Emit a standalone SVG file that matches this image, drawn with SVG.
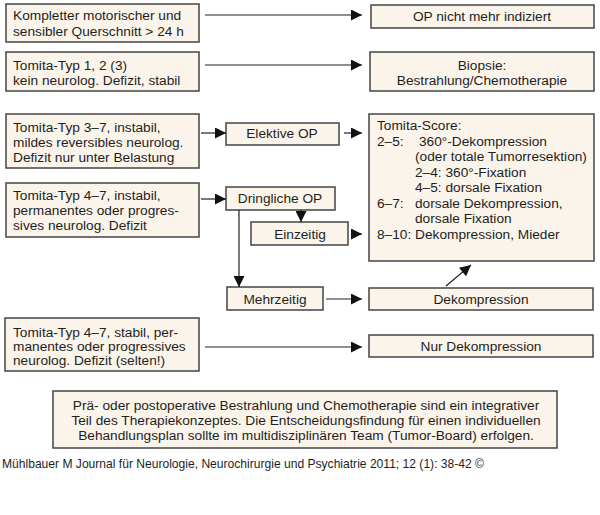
<svg xmlns="http://www.w3.org/2000/svg" width="600" height="515" viewBox="0 0 600 515">
<defs>
<style>
.b{fill:#fbf4ea;stroke:#444;stroke-width:1.5}
text{font-family:"Liberation Sans",Arial,sans-serif;font-size:13.7px;fill:#1e1e1e}
.c{text-anchor:middle}
.l{stroke:#222;stroke-width:1.2;fill:none}
</style>
<marker id="a" viewBox="0 0 10 10" refX="10" refY="5" markerWidth="12" markerHeight="11" markerUnits="userSpaceOnUse" orient="auto"><path d="M0,0L10,5L0,10z" fill="#111"/></marker>
</defs>
<rect width="600" height="515" fill="#fff"/>
<g id="n1"><rect class="b" x="6" y="4" width="193" height="38"/><text x="13" y="20">Kompletter motorischer und</text><text x="13" y="36">sensibler Querschnitt &gt; 24 h</text></g>
<g id="n2"><rect class="b" x="6" y="52" width="193" height="39"/><text x="13" y="70">Tomita-Typ 1, 2 (3)</text><text x="13" y="85">kein neurolog. Defizit, stabil</text></g>
<g id="n3"><rect class="b" x="6" y="114" width="193" height="54"/><text x="13" y="132">Tomita-Typ 3–7, instabil,</text><text x="13" y="147">mildes reversibles neurolog.</text><text x="13" y="162">Defizit nur unter Belastung</text></g>
<g id="n4"><rect class="b" x="6" y="183" width="193" height="54"/><text x="13" y="200">Tomita-Typ 4–7, instabil,</text><text x="13" y="215">permanentes oder progres-</text><text x="13" y="230">sives neurolog. Defizit</text></g>
<g id="n5"><rect class="b" x="5" y="318" width="194" height="53"/><text x="13" y="337">Tomita-Typ 4–7, stabil, per-</text><text x="13" y="351">manentes oder progressives</text><text x="13" y="365">neurolog. Defizit (selten!)</text></g>
<g id="r1"><rect class="b" x="371" y="5" width="223" height="23"/><text class="c" x="482" y="21">OP nicht mehr indiziert</text></g>
<g id="r2"><rect class="b" x="370" y="52" width="224" height="39"/><text class="c" x="482" y="70">Biopsie:</text><text class="c" x="482" y="85">Bestrahlung/Chemotherapie</text></g>
<g id="r3"><rect class="b" x="369" y="114" width="225" height="147"/>
<text x="377" y="130">Tomita-Score:</text>
<text x="377" y="146">2–5:</text><text x="419" y="146">360°-Dekompression</text>
<text x="415" y="161">(oder totale Tumorresektion)</text>
<text x="415" y="177">2–4: 360°-Fixation</text>
<text x="415" y="192">4–5: dorsale Fixation</text>
<text x="377" y="208">6–7:</text><text x="415" y="208">dorsale Dekompression,</text>
<text x="415" y="223">dorsale Fixation</text>
<text x="377" y="239">8–10: Dekompression, Mieder</text></g>
<g id="r4"><rect class="b" x="369" y="288" width="224" height="22"/><text class="c" x="481" y="304">Dekompression</text></g>
<g id="r5"><rect class="b" x="369" y="335" width="224" height="22"/><text class="c" x="481" y="351">Nur Dekompression</text></g>
<g id="m1"><rect class="b" x="226" y="123" width="113" height="22"/><text class="c" x="282" y="138">Elektive OP</text></g>
<g id="m2"><rect class="b" x="226" y="187" width="109" height="23"/><text class="c" x="280" y="203">Dringliche OP</text></g>
<g id="m3"><rect class="b" x="251" y="222" width="97" height="23"/><text class="c" x="300" y="239">Einzeitig</text></g>
<g id="m4"><rect class="b" x="227" y="287" width="96" height="23"/><text class="c" x="275" y="304">Mehrzeitig</text></g>
<g id="note"><rect class="b" x="53" y="391" width="504" height="57"/>
<text class="c" x="306" y="410">Prä- oder postoperative Bestrahlung und Chemotherapie sind ein integrativer</text>
<text class="c" x="306" y="425">Teil des Therapiekonzeptes. Die Entscheidungsfindung für einen individuellen</text>
<text class="c" x="306" y="440">Behandlungsplan sollte im multidisziplinären Team (Tumor-Board) erfolgen.</text></g>
<g id="connectors">
<path class="l" d="M205,15H362" marker-end="url(#a)"/>
<path class="l" d="M205,65H362" marker-end="url(#a)"/>
<path class="l" d="M201,133H226" marker-end="url(#a)"/>
<path class="l" d="M344,133H362" marker-end="url(#a)"/>
<path class="l" d="M201,199H226" marker-end="url(#a)"/>
<path class="l" d="M301,210V222" marker-end="url(#a)"/>
<path class="l" d="M351,234H362" marker-end="url(#a)"/>
<path class="l" d="M239,210V287" marker-end="url(#a)"/>
<path class="l" d="M326,299H362" marker-end="url(#a)"/>
<path class="l" d="M446,286L471,265" marker-end="url(#a)"/>
<path class="l" d="M205,347H362" marker-end="url(#a)"/>
</g>
<text x="2" y="468" style="font-size:13px" textLength="482" lengthAdjust="spacingAndGlyphs">Mühlbauer M Journal für Neurologie, Neurochirurgie und Psychiatrie 2011; 12 (1): 38-42 ©</text>
</svg>
